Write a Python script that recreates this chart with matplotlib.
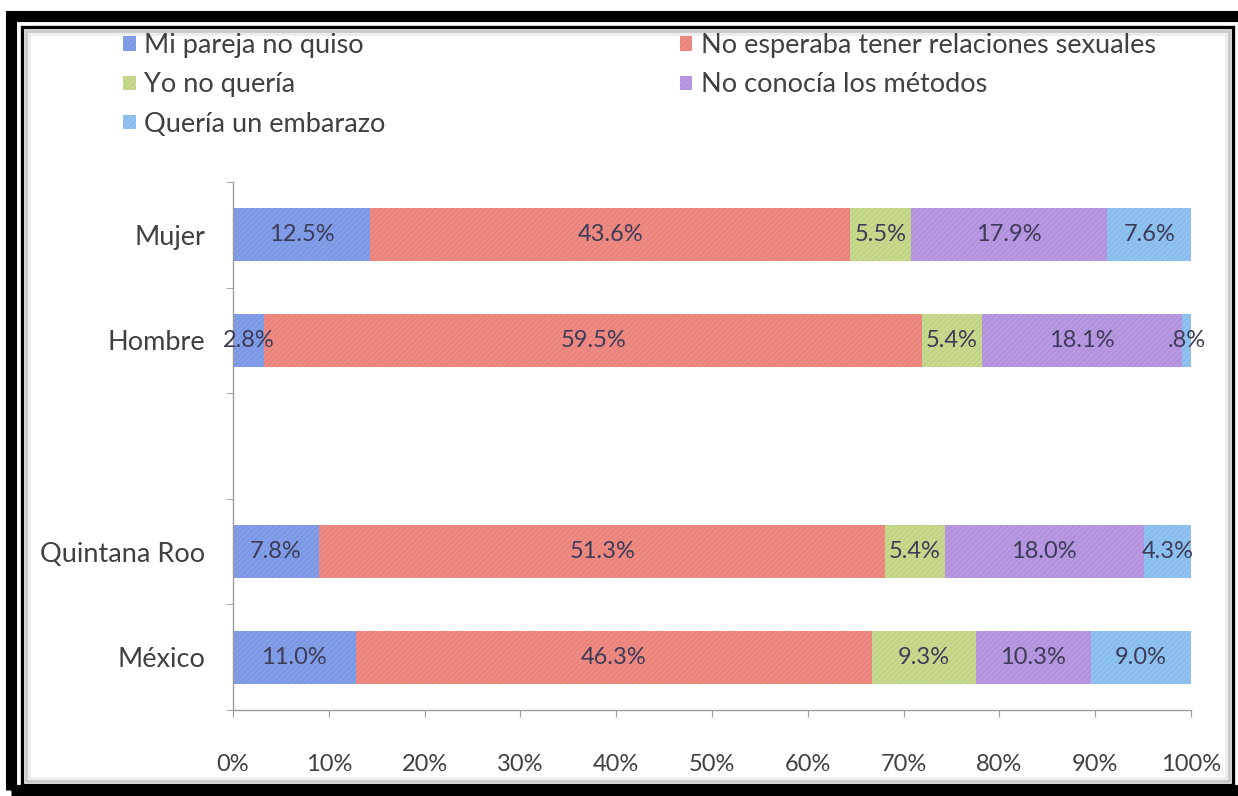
import numpy as np
import matplotlib
matplotlib.use("Agg")
import matplotlib.pyplot as plt
from matplotlib.patches import Rectangle

plt.rcParams['font.family'] = ['Lato', 'DejaVu Sans']
plt.rcParams['hatch.linewidth'] = 0.5

# data
categorias = ['Mujer', 'Hombre', '', 'Quintana Roo', 'México']
series = ['Mi pareja no quiso', 'No esperaba tener relaciones sexuales',
          'Yo no quería', 'No conocía los métodos', 'Quería un embarazo']
mi_pareja = [12.5, 2.8, 0, 7.8, 11.0]
no_esperaba = [43.6, 59.5, 0, 51.3, 46.3]
yo_no = [5.5, 5.4, 0, 5.4, 9.3]
no_conocia = [17.9, 18.1, 0, 18.0, 10.3]
queria = [7.6, 0.8, 0, 4.3, 9.0]
etiquetas = [
    ['12.5%', '2.8%', '', '7.8%', '11.0%'],
    ['43.6%', '59.5%', '', '51.3%', '46.3%'],
    ['5.5%', '5.4%', '', '5.4%', '9.3%'],
    ['17.9%', '18.1%', '', '18.0%', '10.3%'],
    ['7.6%', '.8%', '', '4.3%', '9.0%'],
]
x_ticks = [0, 10, 20, 30, 40, 50, 60, 70, 80, 90, 100]

colores = ['#829ee8', '#ee8a82', '#c6d98c', '#b898e0', '#90c2f0']
rayas = ['#7490dc', '#e47c74', '#b8cc7e', '#aa89d6', '#80b4e8']

vals = np.array([mi_pareja, no_esperaba, yo_no, no_conocia, queria], dtype=float)
tot = vals.sum(axis=0)
tot[tot == 0] = 1
pct = vals / tot * 100

W, H = 1238, 796
fig = plt.figure(figsize=(W / 100, H / 100), dpi=100)
ax = fig.add_axes([233 / W, 1 - 710 / H, (1191 - 233) / W, (710 - 182) / H])
ax.set_zorder(3)

y = np.arange(len(categorias))
left = np.zeros(len(categorias))
barras = []
for i in range(len(series)):
    b = ax.barh(y, pct[i], left=left, height=0.5, color=colores[i],
                edgecolor=rayas[i], linewidth=0, hatch='//////', label=series[i])
    barras.append(b)
    for j in range(len(categorias)):
        if etiquetas[i][j]:
            ax.text(left[j] + pct[i][j] / 2, y[j], etiquetas[i][j],
                    ha='center', va='center', fontsize=17, color='#3c3c58')
    left += pct[i]

ax.set_xlim(0, 100)
ax.set_ylim(len(categorias) - 0.5, -0.5)
ax.set_xticks(x_ticks)
ax.set_xticklabels([f'{t}%' for t in x_ticks])
ax.set_yticks(y)
ax.set_yticklabels(categorias)
ax.set_yticks(np.arange(-0.5, len(categorias)), minor=True)
ax.tick_params(axis='y', which='major', length=0, pad=20, labelsize=19.5, labelcolor='#404040')
ax.tick_params(axis='y', which='minor', length=5, color='#9a9a9a', direction='out')
ax.tick_params(axis='x', length=5, color='#9a9a9a', direction='out', pad=27,
               labelsize=17, labelcolor='#404040')
for s in ['top', 'right']:
    ax.spines[s].set_visible(False)
for s in ['left', 'bottom']:
    ax.spines[s].set_color('#9a9a9a')
    ax.spines[s].set_linewidth(1.0)

handles = [barras[0], barras[2], barras[4], barras[1], barras[3]]
labels = [series[0], series[2], series[4], series[1], series[3]]
ax.legend(handles, labels, ncol=2, loc='upper left',
          bbox_to_anchor=(99 / W, 1 - 9 / H), bbox_transform=fig.transFigure,
          frameon=False, fontsize=19.5, labelcolor='#404040',
          handlelength=0.45, handleheight=0.45, handletextpad=0.3,
          labelspacing=0.52, columnspacing=10.9)

# marco negro alrededor de la imagen
def caja(x0, y0, x1, y1, lw, col='black'):
    fig.patches.append(Rectangle((x0 / W, 1 - y1 / H), (x1 - x0) / W, (y1 - y0) / H,
                                 transform=fig.transFigure, fill=False,
                                 edgecolor=col, linewidth=lw))

caja(10.5, 16, 1250, 789.5, 8.0)
caja(21.5, 26.5, 1232.5, 784.5, 2.4)
caja(25.5, 30.5, 1228.5, 780.5, 2.0, col='#c8c8c8')
caja(28.5, 33.5, 1225.5, 777.5, 2.0, col='#ececec')

fig.savefig('out.png', dpi=100)
